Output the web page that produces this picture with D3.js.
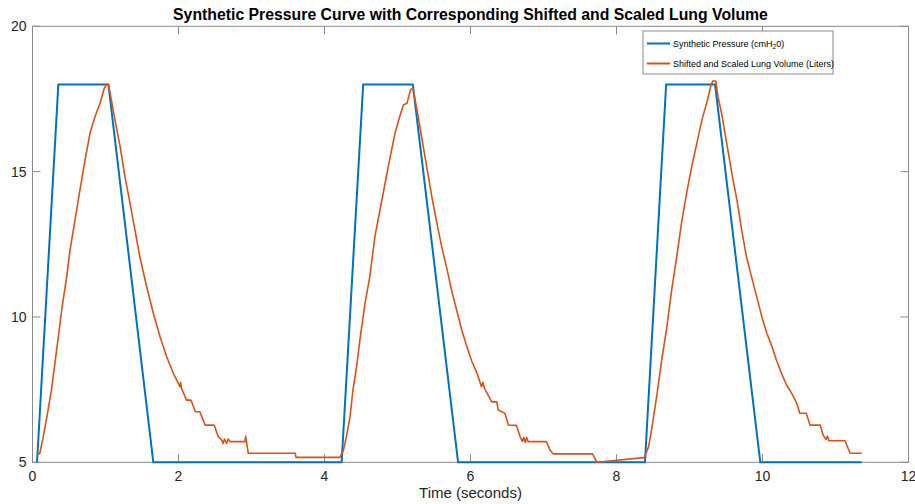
<!DOCTYPE html>
<html><head><meta charset="utf-8">
<script src="https://cdn.jsdelivr.net/npm/d3@7/dist/d3.min.js"></script>
<style>body{margin:0;background:#fff}svg{display:block;font-family:"Liberation Sans",Arial,Helvetica,sans-serif}</style>
</head><body><svg id="c" width="915" height="504"></svg>
<script>
const titleText = "Synthetic Pressure Curve with Corresponding Shifted and Scaled Lung Volume";
const xLabel = "Time (seconds)";
const xTicks = [0, 2, 4, 6, 8, 10, 12];
const yTicks = [5, 10, 15, 20];

const pressureT = [0.062, 0.354, 1.04, 1.655, 4.235, 4.53, 5.21, 5.83, 8.39, 8.68, 9.35, 9.97, 11.36];
const pressureV = [5, 18, 18, 5, 5, 18, 18, 5, 5, 18, 18, 5, 5];

const volumeT = [0.062,0.10,0.148,0.19,0.26,0.354,0.40,0.468,0.514,0.582,0.65,0.72,0.788,0.856,0.925,0.984,1.016,1.04,
 1.085,1.13,1.2,1.267,1.336,1.404,1.47,1.564,1.655,1.747,1.838,1.93,2.02,2.03,2.04,2.11,2.17,2.18,2.23,2.29,2.30,2.366,2.48,2.49,2.545,2.59,2.61,2.63,2.66,2.68,2.71,2.73,2.91,2.92,2.956,3.6,3.61,4.21,
 4.26,4.30,4.35,4.39,4.44,4.485,4.555,4.62,4.69,4.76,4.83,4.90,4.966,5.03,5.08,5.13,5.18,5.21,
 5.26,5.33,5.40,5.47,5.54,5.605,5.67,5.74,5.81,5.88,5.95,6.02,6.09,6.15,6.17,6.19,6.24,6.29,6.36,6.38,6.47,6.52,6.63,6.68,6.71,6.73,6.75,6.77,6.79,6.91,7.04,7.09,7.13,7.67,7.70,7.73,8.38,
 8.44,8.48,8.55,8.62,8.69,8.756,8.825,8.89,8.96,9.03,9.10,9.17,9.24,9.295,9.32,9.36,
 9.39,9.44,9.51,9.58,9.65,9.715,9.78,9.85,9.92,9.99,10.06,10.13,10.19,10.26,10.33,10.40,10.47,10.51,10.6,10.65,10.79,10.83,10.87,10.89,10.91,11.13,11.2,11.36];
const volumeV = [5.25,5.31,5.88,6.46,7.49,9.32,10.24,11.38,12.30,13.33,14.37,15.40,16.32,16.89,17.35,17.87,18.0,18.0,
 17.40,16.78,15.86,14.82,13.91,12.99,12.07,11.04,10.13,9.32,8.63,8.06,7.60,7.75,7.55,7.14,7.14,7.08,6.74,6.74,6.69,6.28,6.28,6.27,5.88,5.77,5.65,5.80,5.65,5.80,5.71,5.71,5.71,5.90,5.31,5.31,5.17,5.17,
 5.42,5.88,6.57,7.49,8.29,9.21,10.47,11.38,12.76,13.68,14.60,15.51,16.32,16.89,17.29,17.35,17.83,17.86,
 17.23,16.2,15.17,14.14,13.22,12.42,11.73,10.93,10.24,9.55,8.98,8.46,8.06,7.60,7.75,7.55,7.32,7.08,7.08,6.80,6.69,6.28,6.27,5.88,5.72,5.85,5.68,5.85,5.71,5.71,5.71,5.42,5.29,5.29,5.16,5.0,5.16,
 5.54,6.11,7.26,8.52,9.66,10.93,12.07,13.22,14.25,15.17,15.97,16.78,17.40,17.98,18.12,18.12,
 17.58,17.0,15.97,14.94,14.02,12.99,12.07,11.38,10.70,10.01,9.44,8.98,8.52,8.06,7.66,7.37,7.03,6.69,6.69,6.28,6.28,5.94,5.78,5.90,5.74,5.74,5.31,5.31];

const pressure = pressureT.map((t,i)=>({t, v: pressureV[i]}));
const volume = volumeT.map((t,i)=>({t, v: volumeV[i]}));

const svg = d3.select("#c");
const m = {l:32.5, r:908.5, t:26.3, b:462.3};
const x = d3.scaleLinear().domain([0,12]).range([m.l, m.r]);
const y = d3.scaleLinear().domain([5,20]).range([m.b, m.t]);
const axisCol = "#8a8a8a", txtCol = "#262626";

svg.append("rect").attr("x", m.l).attr("y", m.t).attr("width", m.r-m.l).attr("height", m.b-m.t)
  .attr("fill","none").attr("stroke",axisCol).attr("stroke-width",1);

const tl = 8;
xTicks.forEach(v=>{
  svg.append("line").attr("x1",x(v)).attr("x2",x(v)).attr("y1",m.b).attr("y2",m.b-tl).attr("stroke",axisCol);
  svg.append("line").attr("x1",x(v)).attr("x2",x(v)).attr("y1",m.t).attr("y2",m.t+tl).attr("stroke",axisCol);
  svg.append("text").attr("x",x(v)).attr("y",m.b+19).attr("text-anchor","middle")
    .attr("font-size",14).attr("fill",txtCol).text(v);
});
yTicks.forEach(v=>{
  svg.append("line").attr("x1",m.l).attr("x2",m.l+tl).attr("y1",y(v)).attr("y2",y(v)).attr("stroke",axisCol);
  svg.append("line").attr("x1",m.r).attr("x2",m.r-tl).attr("y1",y(v)).attr("y2",y(v)).attr("stroke",axisCol);
  svg.append("text").attr("x",m.l-6).attr("y",y(v)+5).attr("text-anchor","end")
    .attr("font-size",14).attr("fill",txtCol).text(v);
});

const line = d3.line().x(d=>x(d.t)).y(d=>y(d.v));
svg.append("path").datum(pressure).attr("d",line).attr("fill","none").attr("stroke","#0072BD").attr("stroke-width",2);
svg.append("path").datum(volume).attr("d",line).attr("fill","none").attr("stroke","#D95319").attr("stroke-width",1.6).attr("stroke-linejoin","round");

svg.append("text").attr("x",(m.l+m.r)/2).attr("y",20).attr("text-anchor","middle")
  .attr("font-size",15.8).attr("font-weight","bold").attr("fill","#000").text(titleText);
svg.append("text").attr("x",(m.l+m.r)/2).attr("y",498).attr("text-anchor","middle")
  .attr("font-size",15).attr("fill",txtCol).text(xLabel);

const lg = svg.append("g");
lg.append("rect").attr("x",643).attr("y",31).attr("width",190).attr("height",43)
  .attr("fill","#fff").attr("stroke",axisCol);
lg.append("line").attr("x1",647).attr("x2",670).attr("y1",43.5).attr("y2",43.5).attr("stroke","#0072BD").attr("stroke-width",2);
lg.append("line").attr("x1",647).attr("x2",670).attr("y1",63.5).attr("y2",63.5).attr("stroke","#D95319").attr("stroke-width",2);
const t1 = lg.append("text").attr("x",673).attr("y",46.5).attr("font-size",9).attr("fill","#000");
t1.append("tspan").text("Synthetic Pressure (cmH");
t1.append("tspan").attr("font-size",6.5).attr("dy",2.5).text("2");
t1.append("tspan").attr("dy",-2.5).text("0)");
lg.append("text").attr("x",673).attr("y",66.5).attr("font-size",9).attr("fill","#000").text("Shifted and Scaled Lung Volume (Liters)");
</script></body></html>
